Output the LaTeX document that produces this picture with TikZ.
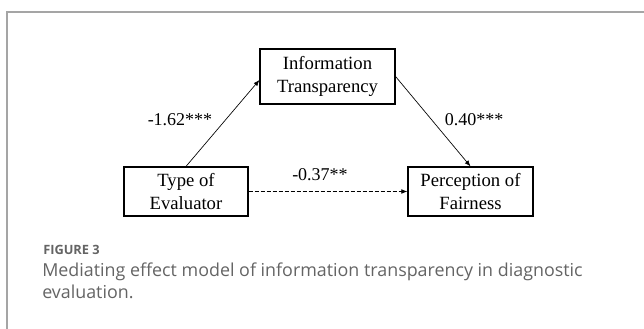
\documentclass[tikz,border=0pt]{standalone}
\usepackage{fontspec}
\setmainfont{Liberation Serif}
\newfontfamily\capfont{Open Sans}
\usetikzlibrary{calc,arrows.meta,positioning}
\definecolor{framegray}{RGB}{165,165,165}
\definecolor{capgray}{RGB}{100,100,100}
\tikzset{
  varbox/.style={draw,line width=0.9pt,align=center,inner sep=0pt,font=\fontsize{14}{17.3}\selectfont},
  coef/.style={font=\fontsize{13.5}{15}\selectfont,anchor=base},
  effect/.style={line width=0.5pt,-{Latex[length=4.5pt,width=3.5pt]}}
}
\begin{document}
\begin{tikzpicture}[x=0.75pt,y=-0.75pt]
        \useasboundingbox(0,0) rectangle (644,329);
        \draw[framegray,line width=1.3pt](7,329)--(7,12)--(644,12);
        % variables (sizes in px)
        \node[varbox,minimum width=101.25pt,minimum height=41.25pt](info) at (327.5,76.5){Information\\Transparency};
        \node[varbox,minimum width=93pt,minimum height=36.75pt](type) at (186,191.5){Type of\\Evaluator};
        \node[varbox,minimum width=93.75pt,minimum height=36.75pt](fair) at (470.5,191.5){Perception of\\Fairness};
        % paths a, b and c'
        \draw[effect](type.north)--($(info.west)+(0,3.5)$);
        \draw[effect](info.east)--(fair.north);
        \draw[effect,dash pattern=on 3pt off 1.5pt](type.east)--(fair.west);
        \node[coef](ca) at (180,125){-1.62***};
        \node[coef](cb) at (474,125){0.40***};
        \node[coef](cc) at (320,180){-0.37**};
        % caption
        \node[anchor=base west,text=capgray,inner sep=0pt,font=\capfont\fontsize{9.6}{12}\selectfont\bfseries](fig) at (43,254){FIGURE 3};
        \node[anchor=base west,text=capgray,align=left,inner sep=0pt,font=\capfont\fontsize{13.4}{16.5}\selectfont](cap) at (42,298){Mediating effect model of information transparency in diagnostic\\evaluation.};
    \end{tikzpicture}
\end{document}
